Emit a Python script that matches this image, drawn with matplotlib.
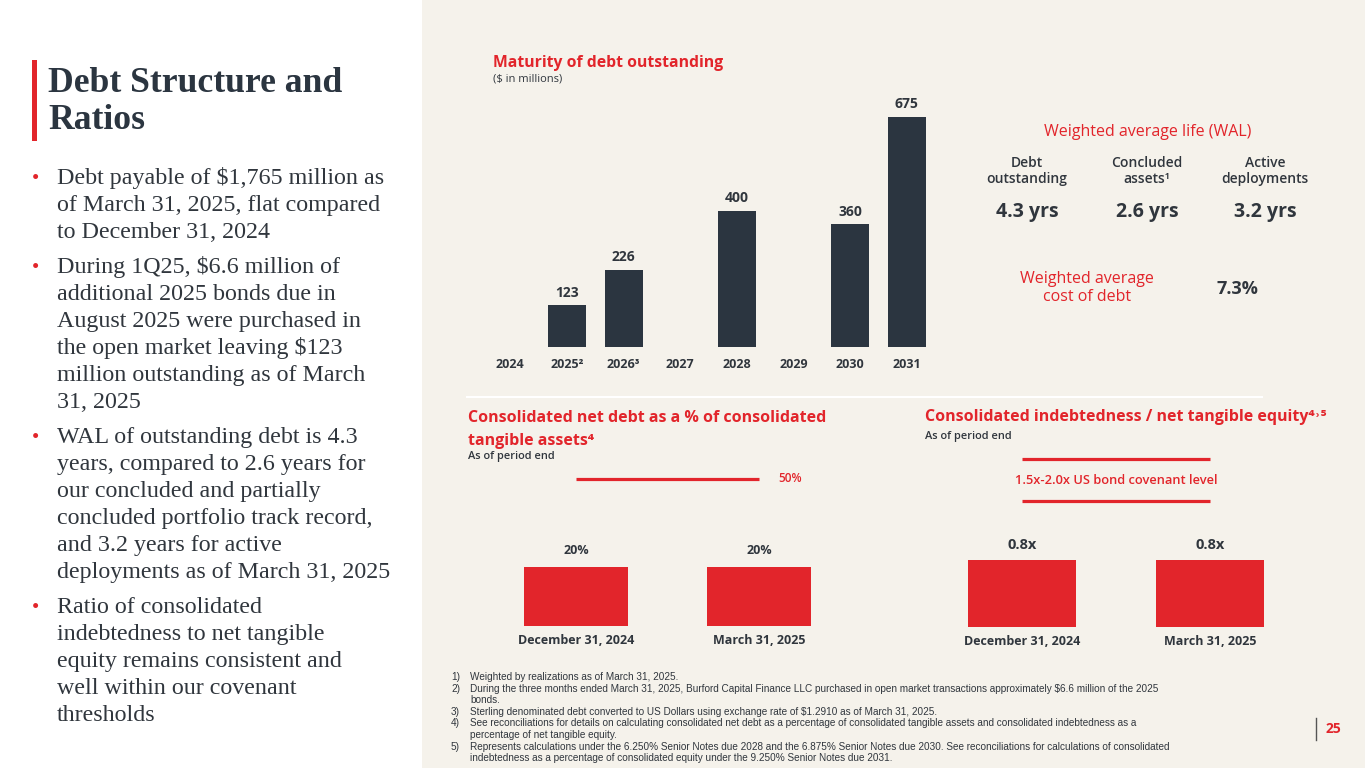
import matplotlib
matplotlib.use("Agg")
import matplotlib.pyplot as plt
from matplotlib.patches import Rectangle

# Colours
RED = "#E2252B"
NAVY = "#2B3540"
DARK = "#30363D"
BEIGE = "#F5F2EB"

SANS = ["Open Sans", "DejaVu Sans"]
SERIF = ["Liberation Serif", "DejaVu Serif"]
NOTE = ["Liberation Sans Narrow", "Liberation Sans"]

# Maturity of debt outstanding ($m)
years = ["2024", "2025²", "2026³", "2027", "2028", "2029", "2030", "2031"]
maturities = [0, 123, 226, 0, 400, 0, 360, 675]

# Ratio charts
periods = ["December 31, 2024", "March 31, 2025"]
net_debt_pct = [20, 20]
net_debt_limit = 50
indebtedness = [0.8, 0.8]
covenant_low = 1.5
covenant_high = 2.0

# Weighted average life
wal_headers = ["Debt\noutstanding", "Concluded\nassets¹", "Active\ndeployments"]
wal_values = ["4.3 yrs", "2.6 yrs", "3.2 yrs"]
cost_of_debt = "7.3%"

W, H = 1365, 768


def fx(x):
    return x / W


def fy(y):
    return 1 - y / H


def box(left, top, right, bottom):
    return [fx(left), fy(bottom), (right - left) / W, (bottom - top) / H]


def clean(ax):
    ax.set_facecolor("none")
    ax.set_yticks([])
    ax.tick_params(axis="x", length=0)
    for s in ax.spines.values():
        s.set_visible(False)


fig = plt.figure(figsize=(13.65, 7.68), dpi=100)
fig.patch.set_facecolor("white")
fig.add_artist(Rectangle((fx(422), 0), 1 - fx(422), 1, transform=fig.transFigure,
                         facecolor=BEIGE, edgecolor="none", zorder=0))
# faint separator between the top and bottom sections
fig.add_artist(plt.Line2D([fx(467), fx(1262)], [fy(397), fy(397)], transform=fig.transFigure,
                          color="white", lw=1.5, zorder=1))

# ---- Left panel: title + bullets ----
fig.add_artist(Rectangle((fx(32), fy(141)), fx(5), (141 - 60) / H, transform=fig.transFigure,
                         facecolor=RED, edgecolor="none"))
fig.text(fx(48), fy(92), "Debt Structure and", family=SERIF, fontsize=25.7, fontweight="bold",
         color=NAVY, va="baseline")
fig.text(fx(48), fy(129), "Ratios", family=SERIF, fontsize=25.7, fontweight="bold",
         color=NAVY, va="baseline")

bullets = [
    ["Debt payable of $1,765 million as", "of March 31, 2025, flat compared",
     "to December 31, 2024"],
    ["During 1Q25, $6.6 million of", "additional 2025 bonds due in",
     "August 2025 were purchased in", "the open market leaving $123",
     "million outstanding as of March", "31, 2025"],
    ["WAL of outstanding debt is 4.3", "years, compared to 2.6 years for",
     "our concluded and partially", "concluded portfolio track record,",
     "and 3.2 years for active", "deployments as of March 31, 2025"],
    ["Ratio of consolidated", "indebtedness to net tangible",
     "equity remains consistent and", "well within our covenant", "thresholds"],
]
y = 184
for para in bullets:
    fig.text(fx(32), fy(y), "•", family=SERIF, fontsize=15, color=RED, va="baseline")
    for line in para:
        fig.text(fx(57), fy(y), line, family=SERIF, fontsize=17.3, color=DARK, va="baseline")
        y += 27
    y += 8

# ---- Top chart: maturity of debt ----
fig.text(fx(493), fy(63), "Maturity of debt outstanding", family=SANS, fontsize=11.3,
         fontweight="bold", color=RED, va="center")
fig.text(fx(493), fy(79), "($ in millions)", family=SANS, fontsize=8, color=DARK, va="center")

ax = fig.add_axes(box(482, 100, 935, 347))
clean(ax)
xs = range(len(years))
ax.bar(xs, maturities, width=0.67, color=NAVY)
for i, v in enumerate(maturities):
    if v > 0:
        ax.annotate(str(v), (i, v), xytext=(0, 4), textcoords="offset points", ha="center",
                    va="bottom", family=SANS, fontsize=10, fontweight="bold", color=DARK)
ax.set_xlim(-0.5, len(years) - 0.5)
ax.set_ylim(0, 725)
ax.set_xticks(list(xs))
ax.set_xticklabels(years, family=SANS, fontsize=9, fontweight="bold", color=DARK)
ax.tick_params(axis="x", pad=8)

# ---- WAL block ----
fig.text(fx(1148), fy(132), "Weighted average life (WAL)", family=SANS, fontsize=11.5,
         color=RED, ha="center", va="center")
for cx, head, val in zip([1027, 1147, 1265], wal_headers, wal_values):
    fig.text(fx(cx), fy(171), head, family=SANS, fontsize=10, fontweight="semibold",
             color=DARK, ha="center", va="center", linespacing=1.25)
    fig.text(fx(cx), fy(212), val, family=SANS, fontsize=14, fontweight="bold",
             color=DARK, ha="center", va="center")
fig.text(fx(1087), fy(288), "Weighted average\ncost of debt", family=SANS, fontsize=11.5,
         color=RED, ha="center", va="center", linespacing=1.2)
fig.text(fx(1237), fy(289), cost_of_debt, family=SANS, fontsize=13, fontweight="bold",
         color=DARK, ha="center", va="center")

# ---- Bottom left: net debt % ----
fig.text(fx(468), fy(418), "Consolidated net debt as a % of consolidated",
         family=SANS, fontsize=11.5, fontweight="bold", color=RED, va="center")
fig.text(fx(468), fy(441), "tangible assets⁴",
         family=SANS, fontsize=11.5, fontweight="bold", color=RED, va="center")
fig.text(fx(468), fy(456), "As of period end", family=SANS, fontsize=7.9, fontweight="semibold",
         color=DARK, va="center")

ax2 = fig.add_axes(box(466, 449, 869, 626))
clean(ax2)
ax2.bar([0, 1], net_debt_pct, width=0.57, color=RED)
ax2.hlines(net_debt_limit, 0, 1, color=RED, lw=2.3)
ax2.text(1.17, net_debt_limit, f"{net_debt_limit}%", family=SANS, fontsize=8.5,
         fontweight="semibold", color=RED, ha="center", va="center")
for i, v in enumerate(net_debt_pct):
    ax2.annotate(f"{v}%", (i, v), xytext=(0, 7), textcoords="offset points", ha="center",
                 va="bottom", family=SANS, fontsize=9, fontweight="bold", color=DARK)
ax2.set_xlim(-0.6, 1.6)
ax2.set_ylim(0, 60)
ax2.set_xticks([0, 1])
ax2.set_xticklabels(periods, family=SANS, fontsize=9, fontweight="bold", color=DARK)
ax2.tick_params(axis="x", pad=6)

# ---- Bottom right: indebtedness / net tangible equity ----
fig.text(fx(925), fy(417), "Consolidated indebtedness / net tangible equity⁴˒⁵",
         family=SANS, fontsize=11.5, fontweight="bold", color=RED, va="center")
fig.text(fx(925), fy(436), "As of period end", family=SANS, fontsize=7.9, fontweight="semibold",
         color=DARK, va="center")

ax3 = fig.add_axes(box(909, 434, 1323, 627))
clean(ax3)
ax3.bar([0, 1], indebtedness, width=0.574, color=RED)
ax3.hlines([covenant_low, covenant_high], 0, 1, color=RED, lw=2.3)
ax3.text(0.5, (covenant_low + covenant_high) / 2,
         f"{covenant_low}x-{covenant_high}x US bond covenant level", family=SANS, fontsize=9.3,
         fontweight="semibold", color=RED, ha="center", va="center")
for i, v in enumerate(indebtedness):
    ax3.annotate(f"{v}x", (i, v), xytext=(0, 6), textcoords="offset points", ha="center",
                 va="bottom", family=SANS, fontsize=10.5, fontweight="bold", color=DARK)
ax3.set_xlim(-0.6, 1.6)
ax3.set_ylim(0, 2.3)
ax3.set_xticks([0, 1])
ax3.set_xticklabels(periods, family=SANS, fontsize=9, fontweight="bold", color=DARK)
ax3.tick_params(axis="x", pad=6)

# ---- Footnotes ----
notes = [
    ("1)", "Weighted by realizations as of March 31, 2025."),
    ("2)", "During the three months ended March 31, 2025, Burford Capital Finance LLC purchased in open market transactions approximately $6.6 million of the 2025"),
    ("", "bonds."),
    ("3)", "Sterling denominated debt converted to US Dollars using exchange rate of $1.2910 as of March 31, 2025."),
    ("4)", "See reconciliations for details on calculating consolidated net debt as a percentage of consolidated tangible assets and consolidated indebtedness as a"),
    ("", "percentage of net tangible equity."),
    ("5)", "Represents calculations under the 6.250% Senior Notes due 2028 and the 6.875% Senior Notes due 2030. See reconciliations for calculations of consolidated"),
    ("", "indebtedness as a percentage of consolidated equity under the 9.250% Senior Notes due 2031."),
]
ny = 677
for num, txt in notes:
    if num:
        fig.text(fx(451), fy(ny), num, family=NOTE, fontsize=7.2, color=DARK, va="center")
    fig.text(fx(470), fy(ny), txt, family=NOTE, fontsize=7.2, color=DARK, va="center")
    ny += 11.6

# ---- Page number ----
fig.add_artist(plt.Line2D([fx(1316), fx(1316)], [fy(718), fy(740)], transform=fig.transFigure,
                          color="#555555", lw=1))
fig.text(fx(1333), fy(729), "25", family=SANS, fontsize=10, fontweight="bold", color=RED,
         ha="center", va="center")

fig.savefig("out.png", dpi=100, facecolor=fig.get_facecolor())
